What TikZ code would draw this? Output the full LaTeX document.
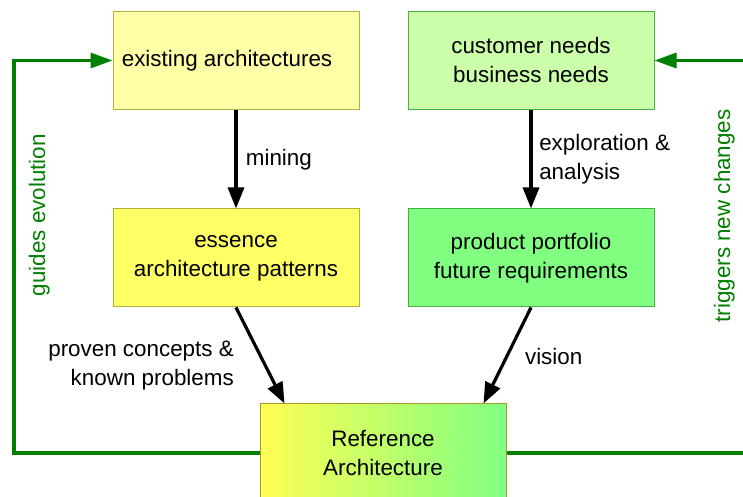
\documentclass[tikz,border=0pt]{standalone}
\usepackage{fontspec}
\setmainfont{Liberation Sans}
\usetikzlibrary{arrows.meta}
\definecolor{paleyellow}{HTML}{FFFFA8}
\definecolor{brightyellow}{HTML}{FFFF66}
\definecolor{palegreen}{HTML}{CCFFAA}
\definecolor{brightgreen}{HTML}{80FF80}
\definecolor{reffyellow}{HTML}{FFFF55}
\definecolor{oliveline}{HTML}{B0B040}
\definecolor{greenline}{HTML}{44B044}
\definecolor{refline}{HTML}{A89A20}
\definecolor{loopgreen}{HTML}{008000}
\tikzstyle{box}=[rectangle,draw,line width=0.5pt,minimum width=123pt,minimum height=49pt,align=center,font=\fontsize{11.2}{14.5}\selectfont]
\tikzstyle{flow} = [draw,line width=1.6pt,-{Triangle[length=10.5pt,width=8pt]}]
\tikzstyle{feedback} = [draw,line width=1.6pt,loopgreen,-{Triangle[length=11pt,width=7.5pt]}]
\tikzstyle{note} = [font=\fontsize{11.2}{14.5}\selectfont]
\tikzstyle{loop note} = [note,text=loopgreen]

\begin{document}
\begin{tikzpicture}[x=0.5pt,y=0.5pt]
        \useasboundingbox (0,0) rectangle (743,497);
        \clip (0,0) rectangle (743,497);
        \node[box,fill=paleyellow,draw=oliveline] (existing) at (236,436.5) {existing architectures\hspace*{9pt}};
        \node[box,fill=palegreen,draw=greenline] (needs) at (531,436.5) {customer needs\\business needs};
        \node[box,fill=brightyellow,draw=oliveline] (essence) at (236,239) {essence\\architecture patterns};
        \node[box,fill=brightgreen,draw=greenline] (portfolio) at (531,239) {product portfolio\\future requirements};
        \node[box,left color=reffyellow,right color=brightgreen,draw=refline] (ref) at (383,44) {Reference\\Architecture};
        \coordinate (lc) at (14,44);
        \coordinate (rc) at (746,44);

        \path[flow] (existing) -- node[note,right=0.8pt] {mining} (essence);
        \path[flow] (needs) -- node[note,right,align=left] {exploration \&\\analysis} (portfolio);
        \path[flow] (essence.south) -- node[note,pos=0.6,left=11.5pt,align=right] {proven concepts \&\\known problems} ([xshift=12.5pt]ref.north west);
        \path[flow] (portfolio.south) -- node[note,pos=0.51,right=5pt] {vision} ([xshift=-11.5pt]ref.north east);
        \path[feedback] (ref.west) -- (lc) |- node[loop note,pos=0.303,anchor=north,xshift=3.3pt,rotate=90] {guides evolution} (existing.west);
        \path[feedback] (ref.east) -- (rc) |- node[loop note,pos=0.302,anchor=south,xshift=-1.5pt,rotate=90] {triggers new changes} (needs.east);
    \end{tikzpicture}
\end{document}
